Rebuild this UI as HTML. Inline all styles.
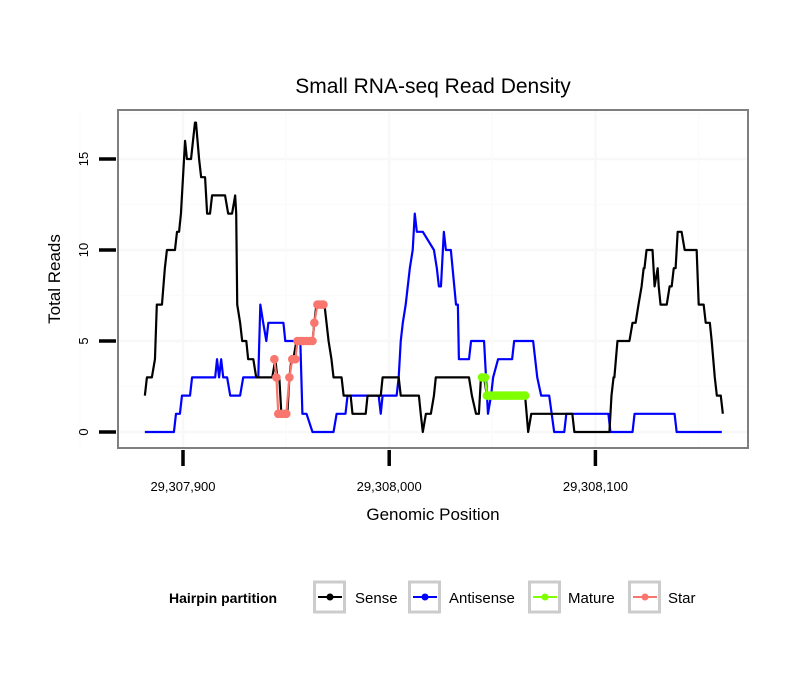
<!DOCTYPE html>
<html><head><meta charset="utf-8"><style>
body{margin:0;background:#fff;}
svg text{font-family:"Liberation Sans",Arial,sans-serif;}
</style></head><body>
<svg id="chart" width="810" height="690" xmlns="http://www.w3.org/2000/svg">
<rect width="810" height="690" fill="#fff"/>
<text x="433" y="93" font-size="21" text-anchor="middle">Small RNA-seq Read Density</text>
<g id="grid"></g>
<rect x="118" y="110" width="630" height="338" fill="none" stroke="#7f7f7f" stroke-width="2"/>
<g id="series"></g>
<g id="axes"></g>
<text x="433" y="520" font-size="17" text-anchor="middle">Genomic Position</text>
<text transform="translate(60,279) rotate(-90)" font-size="17" text-anchor="middle">Total Reads</text>
<g>
<text x="169" y="603" font-size="14" font-weight="bold">Hairpin partition</text>
<g id="legend"></g>
</g>
</svg>
<script>
const BASE = 29307900;
const senseX = [-18.5,-17.5,-15.1,-13.6,-12.7,-10.2,-8.8,-7.8,-3.9,-2.9,-1.9,-1.0,1.0,1.9,3.9,5.8,6.3,7.8,8.8,10.7,11.7,13.1,14.1,20.4,21.9,23.8,25.3,25.8,26.3,27.7,28.7,30.7,31.6,34.1,35.5,43.3,44.8,45.7,46.7,47.7,50.6,51.6,52.6,53.5,55.0,62.8,63.7,64.7,68.6,69.6,70.6,72.0,73.0,76.9,77.9,81.3,82.2,88.6,89.5,95.9,96.8,104.6,105.6,114.4,115.3,116.3,117.8,120.2,121.7,122.6,138.7,140.1,142.1,143.5,144.5,146.0,147.4,165.9,167.4,168.9,188.8,189.8,206.8,207.8,208.8,209.2,210.7,216.5,218.0,219.5,220.9,222.4,223.4,223.8,224.8,227.7,228.7,230.2,230.7,231.6,234.6,236.0,237.0,238.0,238.9,239.9,241.8,243.3,249.1,250.1,252.5,253.5,255.5,256.4,257.9,258.9,260.8,261.8];
const senseY = [2,3,3,4,7,7,9,10,10,11,11,12,16,15,15,17,17,15,14,14,12,12,13,13,12,12,13,12,7,6,5,5,4,4,3,3,4,3,3,1,1,3,4,4,5,5,6,7,7,6,5,4,3,3,2,2,1,1,2,2,3,3,2,2,1,0,1,1,2,3,3,2,1,1,3,3,2,2,0,1,1,0,0,2,3,3,5,5,6,6,7,8,9,9,10,10,8,9,8,7,7,8,8,9,9,11,11,10,10,7,7,6,6,5,3,2,2,1];
const antiX = [-18.5,-4.4,-3.4,-1.5,-0.5,3.4,4.4,15.6,16.5,17.5,18.5,19.5,21.4,22.9,27.7,29.2,36.5,37.5,38.9,40.4,41.4,48.7,49.6,56.9,57.9,59.9,62.8,73.0,74.5,78.8,79.8,94.9,95.9,96.8,103.6,104.6,105.6,106.6,108.0,110.0,111.4,112.4,113.4,116.3,121.7,123.1,124.1,125.1,126.5,127.5,129.9,132.4,133.3,133.8,138.7,139.7,146.0,147.9,149.4,150.4,152.8,159.6,160.6,169.8,171.8,173.7,177.6,180.0,184.9,185.9,206.3,207.3,218.0,219.0,238.4,239.4,261.3];
const antiY = [0,0,1,1,2,2,3,3,4,3,4,3,3,2,2,3,3,7,6,5,6,6,5,5,1,1,0,0,1,1,2,2,1,2,2,3,5,6,7,9,10,12,11,11,10,9,8,8,11,10,10,7,7,4,4,5,5,1,2,3,4,4,5,5,3,2,2,0,0,1,1,0,0,1,1,0,0];
const matureX = [145.0,146.5,147.4,148.4,149.4,150.4,151.4,152.4,153.4,154.4,155.4,156.4,157.4,158.4,159.4,160.4,161.4,162.4,163.4,164.4,165.4,165.9];
const matureY = [3,3,2,2,2,2,2,2,2,2,2,2,2,2,2,2,2,2,2,2,2,2];
const starX = [44.3,45.3,46.2,47.7,49.1,50.1,51.6,53.0,54.5,55.5,56.9,58.4,59.9,61.3,62.8,63.7,65.2,66.2,67.2,68.1];
const starY = [4,3,1,1,1,1,3,4,4,5,5,5,5,5,5,6,7,7,7,7];
const yTicks = [0,5,10,15];
const xTicks = [29307900,29308000,29308100];
const xTickLabels = ["29,307,900","29,308,000","29,308,100"];

const NS = "http://www.w3.org/2000/svg";
const sx = off => 183 + off * 2.062;
const sy = v => 432 - v * 18.2;
function mk(tag, attrs, parent){const e=document.createElementNS(NS,tag);for(const k in attrs)e.setAttribute(k,attrs[k]);parent.appendChild(e);return e;}
const grid=document.getElementById('grid'), axes=document.getElementById('axes'), series=document.getElementById('series');
mk('rect',{x:118,y:110,width:630,height:338,fill:'#fff'},grid);
[2.5,7.5,12.5,17.5].forEach(v=>{const l=mk('line',{x1:119,x2:747,y1:sy(v),y2:sy(v),stroke:'#fbfbfb','stroke-width':1.5},grid);

});
yTicks.forEach(v=>{const l=mk('line',{x1:119,x2:747,y1:sy(v),y2:sy(v),stroke:'#f8f8f8','stroke-width':2.5},grid);


const t=mk('line',{x1:99,x2:116,y1:sy(v),y2:sy(v),stroke:'#000','stroke-width':3.5},axes);


const tx=mk('text',{transform:`translate(88,${sy(v)}) rotate(-90)`,'font-size':13,'text-anchor':'middle'},axes);tx.textContent=String(v);

});
xTicks.forEach((p,i)=>{const x=sx(p-BASE);
const g=mk('line',{x1:x,x2:x,y1:111,y2:447,stroke:'#f8f8f8','stroke-width':2.5},grid);


const t=mk('line',{x1:x,x2:x,y1:450,y2:466,stroke:'#000','stroke-width':3.5},axes);


const tx=mk('text',{x:x,y:491,'font-size':13,'text-anchor':'middle'},axes);tx.textContent=xTickLabels[i];

});
[-50,50,150,250].forEach(o=>{const x=sx(o);const l=mk('line',{x1:x,x2:x,y1:111,y2:447,stroke:'#fbfbfb','stroke-width':1.5},grid);

});
function line(xs,ys,color,name){const pts=xs.map((x,i)=>sx(x)+','+sy(ys[i])).join(' ');
const p=mk('polyline',{points:pts,fill:'none',stroke:color,'stroke-width':2.2,'stroke-linejoin':'round'},series);

return p;}
function dots(xs,ys,color,name){const g=mk('g',{},series);


xs.forEach((x,i)=>{const c=mk('circle',{cx:sx(x),cy:sy(ys[i]),r:4.3,fill:color},g);

});}
line(antiX,antiY,'#0000ff','antisense-line');
line(senseX,senseY,'#000','sense-line');
line(starX,starY,'#f8766d','star-line');dots(starX,starY,'#f8766d','star-points');
line(matureX,matureY,'#7fff00','mature-line');dots(matureX,matureY,'#7fff00','mature-points');
const leg=document.getElementById('legend');
const legItems=[['Sense','#000',313,355],['Antisense','#0000ff',408,449],['Mature','#7fff00',528,568],['Star','#f8766d',628,668]];
legItems.forEach(([lab,col,bx,tx])=>{const g=mk('g',{},leg);


mk('rect',{x:bx+1.5,y:582,width:30,height:30,fill:'#fff',stroke:'#cccccc','stroke-width':3},g);
mk('line',{x1:bx+5,x2:bx+29,y1:597,y2:597,stroke:col,'stroke-width':2},g);
mk('circle',{cx:bx+17,cy:597,r:3.5,fill:col},g);
const t=mk('text',{x:tx,y:603,'font-size':15},g);t.textContent=lab;});
</script>
</body></html>
